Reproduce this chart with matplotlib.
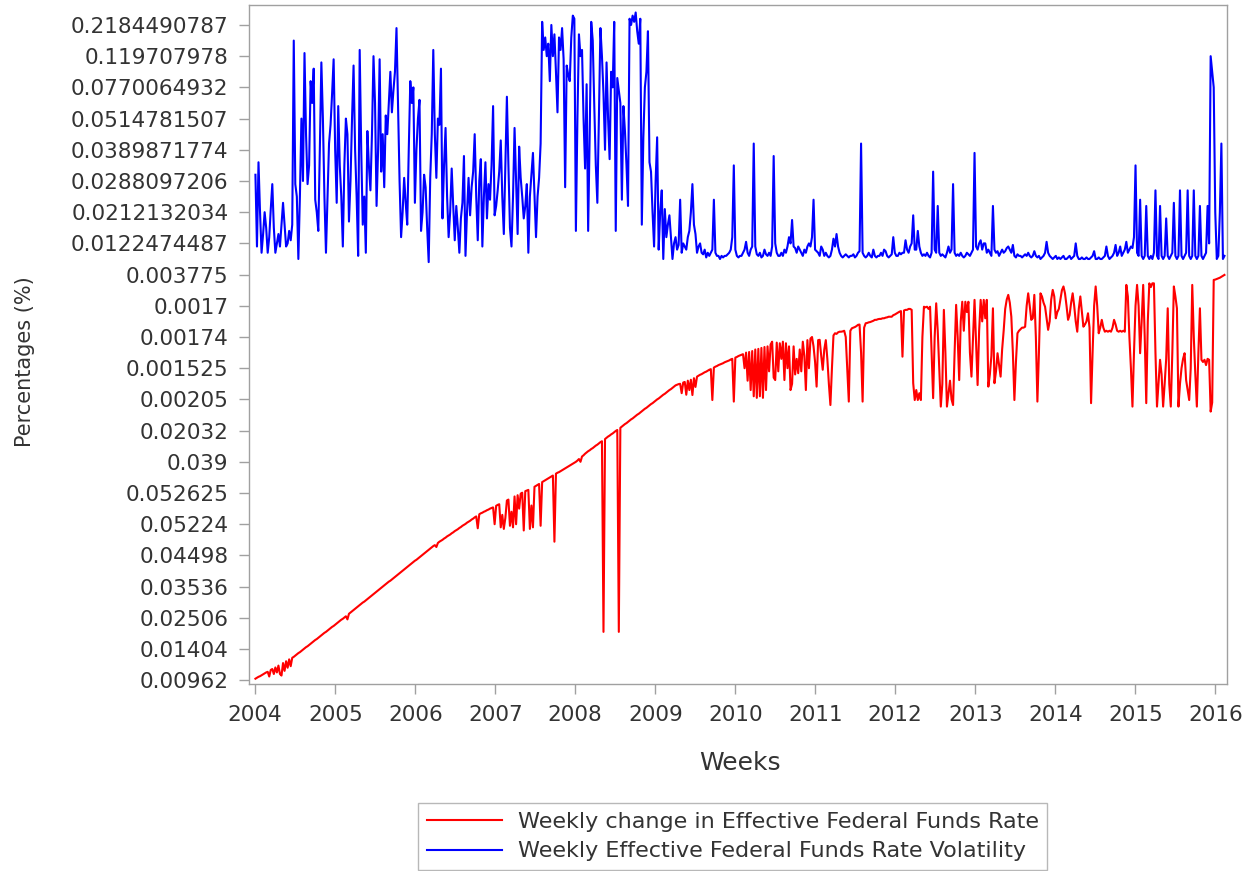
import numpy as np
import pandas as pd
import matplotlib
matplotlib.use("Agg")
import matplotlib.pyplot as plt
import matplotlib.dates as mdates
from datetime import datetime

# y-axis levels (bottom to top), as printed on the axis
level_labels = ["0.00962", "0.01404", "0.02506", "0.03536", "0.04498", "0.05224",
                "0.052625", "0.039", "0.02032", "0.00205", "0.001525", "0.00174",
                "0.0017", "0.003775", "0.0122474487", "0.0212132034", "0.0288097206",
                "0.0389871774", "0.0514781507", "0.0770064932", "0.119707978",
                "0.2184490787"]

start_week = "2004-01-02"

# weekly change in effective fed funds rate (position on the level axis)
fed_change = [
    0.05, 0.08, 0.11, 0.13, 0.16, 0.19, 0.22, 0.25, 0.27, 0.12,
    0.33, 0.36, 0.20, 0.41, 0.25, 0.47, 0.20, 0.15, 0.55, 0.30,
    0.61, 0.40, 0.67, 0.45, 0.72, 0.75, 0.79, 0.83, 0.87, 0.90,
    0.94, 0.98, 1.02, 1.06, 1.09, 1.13, 1.17, 1.21, 1.25, 1.29,
    1.32, 1.36, 1.40, 1.44, 1.48, 1.52, 1.55, 1.59, 1.63, 1.67,
    1.71, 1.74, 1.78, 1.82, 1.86, 1.90, 1.94, 1.97, 2.01, 2.05,
    1.95, 2.13, 2.17, 2.21, 2.25, 2.29, 2.33, 2.37, 2.41, 2.45,
    2.49, 2.52, 2.56, 2.60, 2.64, 2.68, 2.72, 2.76, 2.80, 2.84,
    2.88, 2.92, 2.96, 3.00, 3.04, 3.08, 3.12, 3.16, 3.19, 3.23,
    3.27, 3.31, 3.35, 3.39, 3.43, 3.47, 3.51, 3.55, 3.59, 3.63,
    3.67, 3.71, 3.75, 3.79, 3.83, 3.86, 3.90, 3.94, 3.98, 4.02,
    4.06, 4.10, 4.14, 4.18, 4.22, 4.26, 4.30, 4.33, 4.27, 4.40,
    4.44, 4.47, 4.50, 4.54, 4.57, 4.61, 4.64, 4.67, 4.71, 4.74,
    4.78, 4.81, 4.84, 4.88, 4.91, 4.95, 4.98, 5.01, 5.05, 5.08,
    5.11, 5.15, 5.18, 5.22, 5.25, 4.87, 5.32, 5.35, 5.37, 5.40,
    5.42, 5.45, 5.47, 5.50, 5.52, 5.54, 5.00, 5.59, 5.62, 5.64,
    4.90, 5.30, 4.85, 5.20, 5.76, 5.79, 4.95, 5.40, 4.90, 5.89,
    5.00, 5.93, 5.50, 5.98, 6.01, 4.80, 6.06, 6.08, 6.10, 4.85,
    5.60, 4.90, 6.20, 6.23, 6.26, 6.29, 4.95, 6.35, 6.38, 6.41,
    6.44, 6.47, 6.50, 6.53, 6.56, 4.44, 6.62, 6.65, 6.67, 6.70,
    6.73, 6.76, 6.79, 6.82, 6.85, 6.88, 6.91, 6.94, 6.97, 7.00,
    7.04, 7.09, 7.00, 7.17, 7.21, 7.26, 7.30, 7.34, 7.37, 7.41,
    7.44, 7.48, 7.52, 7.55, 7.59, 7.63, 7.66, 1.55, 7.73, 7.77,
    7.81, 7.84, 7.88, 7.91, 7.95, 7.99, 8.02, 1.55, 8.09, 8.13,
    8.17, 8.21, 8.24, 8.28, 8.32, 8.36, 8.39, 8.43, 8.47, 8.51,
    8.54, 8.58, 8.62, 8.66, 8.70, 8.73, 8.77, 8.81, 8.85, 8.88,
    8.92, 8.96, 9.00, 9.03, 9.07, 9.11, 9.15, 9.18, 9.22, 9.26,
    9.30, 9.33, 9.37, 9.41, 9.45, 9.47, 9.49, 9.50, 9.20, 9.54,
    9.56, 9.15, 9.60, 9.30, 9.63, 9.14, 9.68, 9.40, 9.73, 9.76,
    9.79, 9.81, 9.84, 9.87, 9.89, 9.92, 9.95, 9.97, 8.98, 10.02,
    10.05, 10.07, 10.10, 10.12, 10.14, 10.16, 10.19, 10.21, 10.23, 10.25,
    10.28, 10.30, 8.93, 10.34, 10.36, 10.39, 10.41, 10.43, 10.45, 10.00,
    10.50, 9.60, 10.52, 9.30, 10.55, 9.10, 10.60, 9.05, 10.62, 9.10,
    10.65, 9.05, 10.68, 9.30, 10.70, 9.90, 10.76, 10.85, 9.70, 9.62,
    10.82, 9.90, 10.80, 10.30, 10.85, 9.62, 10.80, 10.00, 10.70, 9.30,
    9.50, 10.70, 9.80, 10.30, 9.84, 10.60, 9.90, 10.85, 10.40, 9.30,
    10.90, 10.00, 10.95, 11.00, 10.70, 10.20, 9.41, 10.90, 10.91, 10.40,
    9.95, 10.60, 10.90, 10.30, 9.50, 8.82, 10.00, 11.05, 11.12, 11.10,
    11.15, 11.17, 11.17, 11.18, 11.20, 11.00, 10.00, 8.93, 11.20, 11.28,
    11.30, 11.32, 11.35, 11.39, 11.40, 10.50, 8.93, 11.30, 11.44, 11.45,
    11.47, 11.48, 11.50, 11.52, 11.55, 11.55, 11.57, 11.58, 11.58, 11.60,
    11.60, 11.62, 11.63, 11.65, 11.65, 11.65, 11.70, 11.72, 11.75, 11.78,
    11.81, 11.83, 10.37, 11.85, 11.87, 11.87, 11.90, 11.90, 11.87, 9.52,
    8.98, 9.30, 8.98, 9.20, 8.98, 11.00, 11.97, 11.95, 11.97, 11.90,
    11.97, 10.50, 9.04, 11.00, 12.08, 11.20, 10.00, 8.77, 9.50, 11.87,
    10.50, 8.77, 9.20, 9.60, 9.00, 8.82, 10.50, 12.03, 11.00, 9.62,
    11.50, 12.13, 11.20, 12.13, 11.80, 12.13, 10.50, 9.73, 11.00, 12.19,
    10.80, 9.46, 11.20, 12.19, 11.50, 12.19, 11.60, 12.19, 9.41, 9.80,
    10.40, 11.92, 9.52, 9.90, 10.48, 10.10, 9.73, 10.60, 11.20, 11.90,
    12.20, 12.35, 12.10, 11.65, 10.50, 8.98, 10.20, 11.12, 11.20, 11.25,
    11.30, 11.30, 11.33, 12.00, 12.40, 12.00, 11.55, 11.60, 12.35, 11.00,
    8.93, 10.50, 12.40, 12.30, 12.10, 11.97, 11.60, 11.23, 11.50, 12.20,
    12.51, 12.30, 11.60, 11.80, 11.90, 12.20, 12.50, 12.62, 12.40, 12.00,
    11.55, 11.70, 12.10, 12.40, 12.00, 11.50, 11.17, 11.90, 12.30, 11.80,
    11.33, 11.40, 11.50, 11.76, 11.30, 8.88, 10.50, 12.00, 12.62, 12.00,
    11.12, 11.30, 11.55, 11.30, 11.17, 11.20, 11.17, 11.20, 11.17, 11.30,
    11.55, 11.40, 11.20, 11.17, 11.20, 11.17, 11.20, 11.17, 12.67, 12.30,
    11.00, 10.00, 8.77, 10.50, 12.00, 12.67, 12.00, 10.48, 11.50, 12.67,
    11.00, 8.88, 11.50, 12.72, 12.60, 12.72, 12.72, 10.50, 8.77, 9.50,
    10.27, 9.80, 8.77, 9.50, 10.30, 11.92, 9.50, 8.77, 10.50, 12.62,
    12.30, 11.92, 8.77, 9.50, 10.00, 10.30, 10.48, 9.62, 9.30, 8.98,
    10.00, 12.67, 11.00, 9.80, 8.77, 10.50, 11.92, 10.27, 10.20, 10.27,
    10.10, 10.30, 10.27, 8.61, 8.90, 12.83, 12.84, 12.86, 12.88, 12.90,
    12.93, 12.96, 12.99,
]

# weekly effective fed funds rate volatility (position on the level axis)
fed_vol = [
    16.2, 13.9, 16.6, 15.0, 13.7, 14.3, 15.0, 14.5, 13.7, 14.2,
    15.1, 15.9, 14.5, 13.7, 14.0, 14.3, 13.9, 14.6, 15.3, 14.6,
    13.9, 14.0, 14.4, 14.1, 14.6, 20.5, 15.9, 15.5, 13.5, 15.5,
    18.0, 16.0, 20.1, 17.5, 15.9, 16.5, 19.2, 18.5, 19.6, 15.4,
    15.0, 14.4, 17.0, 19.8, 18.0, 15.5, 13.7, 15.5, 17.2, 17.8,
    18.8, 19.9, 17.0, 15.3, 18.4, 16.5, 15.5, 13.9, 16.5, 18.0,
    17.5, 14.7, 16.0, 18.0, 19.7, 17.0, 15.5, 13.6, 20.2, 17.0,
    14.6, 15.5, 13.7, 17.6, 16.5, 15.7, 17.5, 20.0, 18.5, 15.2,
    17.0, 19.9, 16.3, 17.5, 15.8, 18.1, 17.5, 18.5, 19.5, 18.2,
    18.9, 19.5, 20.9, 18.5, 16.0, 14.2, 15.0, 16.1, 15.3, 14.6,
    17.0, 19.2, 18.5, 19.0, 15.3, 17.0, 18.0, 18.6, 14.4, 15.0,
    16.2, 15.8, 14.5, 13.4, 16.1, 17.5, 20.2, 17.5, 16.1, 18.0,
    17.8, 19.6, 14.8, 16.5, 17.7, 15.5, 14.2, 15.0, 16.4, 15.2,
    14.1, 15.2, 14.5, 13.7, 14.8, 15.3, 16.8, 13.6, 15.0, 16.1,
    14.9, 15.8, 16.3, 17.5, 15.5, 14.1, 16.0, 16.7, 13.9, 15.5,
    16.6, 14.8, 15.9, 15.4, 16.5, 18.4, 14.9, 15.2, 15.7, 16.3,
    17.3, 15.5, 14.3, 16.5, 18.7, 16.5, 14.5, 13.9, 15.5, 17.7,
    16.0, 14.3, 17.1, 16.1, 15.5, 14.8, 15.2, 15.9, 13.7, 15.5,
    16.2, 16.9, 15.5, 14.2, 15.5, 16.1, 17.2, 21.1, 20.2, 20.6,
    20.0, 20.4, 19.2, 21.0, 20.0, 20.7, 19.5, 18.2, 20.6, 20.2,
    20.9, 19.9, 15.8, 19.7, 19.4, 19.2, 20.6, 21.3, 21.2, 14.4,
    18.0, 20.7, 20.0, 20.2, 18.0, 16.4, 19.1, 14.4, 17.5, 21.1,
    20.5, 18.4, 16.5, 15.3, 18.0, 20.9, 20.0, 18.8, 17.0, 19.8,
    18.0, 16.7, 19.5, 19.0, 21.1, 14.4, 19.3, 18.9, 18.5, 15.4,
    18.4, 17.6, 16.5, 15.2, 21.2, 21.0, 21.3, 21.1, 21.4, 20.8,
    20.4, 21.2, 14.6, 17.4, 19.0, 19.5, 20.8, 16.6, 16.3, 15.0,
    13.9, 16.0, 17.4, 13.8, 15.0, 15.7, 13.5, 15.1, 14.2, 14.6,
    14.9, 14.2, 13.5, 14.0, 14.2, 13.8, 13.95, 15.4, 13.7, 14.0,
    13.9, 13.8, 14.2, 14.4, 15.0, 15.9, 14.6, 14.3, 13.7, 13.9,
    14.0, 13.7, 13.65, 13.8, 13.55, 13.7, 13.6, 13.7, 13.8, 15.4,
    13.7, 13.6, 13.6, 13.5, 13.6, 13.55, 13.6, 13.6, 13.65, 13.7,
    13.8, 14.2, 16.5, 13.8, 13.6, 13.55, 13.6, 13.6, 13.7, 13.8,
    14.05, 13.7, 13.6, 13.8, 13.9, 17.2, 13.9, 13.65, 13.6, 13.7,
    13.55, 13.6, 13.8, 13.65, 13.6, 13.7, 13.6, 13.9, 16.8, 14.0,
    13.7, 13.6, 13.6, 13.7, 13.6, 13.8, 13.7, 13.9, 14.2, 14.0,
    14.75, 13.9, 13.85, 13.7, 13.9, 13.8, 13.7, 13.6, 13.8, 13.7,
    13.9, 14.0, 13.9, 14.2, 15.4, 13.8, 13.75, 13.7, 13.6, 13.9,
    13.8, 13.6, 13.7, 13.6, 13.55, 13.6, 13.8, 14.15, 13.9, 14.3,
    13.9, 13.7, 13.6, 13.55, 13.6, 13.65, 13.6, 13.55, 13.6, 13.6,
    13.65, 13.55, 13.6, 13.7, 13.75, 17.2, 13.7, 13.6, 13.55, 13.6,
    13.7, 13.6, 13.55, 13.8, 13.6, 13.55, 13.6, 13.6, 13.7, 13.6,
    13.8, 13.75, 13.6, 13.55, 13.6, 13.65, 14.2, 13.7, 13.6, 13.6,
    13.7, 13.65, 13.7, 13.7, 14.1, 13.8, 13.7, 13.9, 14.0, 14.9,
    13.8, 13.8, 14.4, 13.9, 13.7, 13.6, 13.65, 13.6, 13.7, 13.6,
    13.55, 13.7, 16.3, 13.8, 13.7, 15.2, 13.7, 13.6, 13.65, 13.6,
    13.55, 13.7, 13.9, 13.7, 13.8, 15.9, 13.7, 13.6, 13.65, 13.6,
    13.7, 13.6, 13.55, 13.6, 13.7, 13.65, 13.6, 13.7, 13.8, 16.9,
    13.9, 13.8, 14.0, 14.1, 13.8, 14.0, 14.0, 13.7, 13.8, 13.7,
    13.6, 15.2, 13.8, 13.7, 13.75, 13.6, 13.7, 13.8, 13.7, 13.75,
    13.85, 13.9, 13.8, 13.7, 13.95, 13.6, 13.55, 13.65, 13.6, 13.6,
    13.55, 13.6, 13.65, 13.6, 13.7, 13.6, 13.55, 13.6, 13.75, 13.6,
    13.55, 13.6, 13.5, 13.55, 13.6, 13.7, 14.05, 13.7, 13.6, 13.55,
    13.5, 13.55, 13.6, 13.5, 13.55, 13.5, 13.55, 13.6, 13.5, 13.5,
    13.55, 13.6, 13.5, 13.55, 13.6, 14.0, 13.6, 13.5, 13.5, 13.55,
    13.5, 13.5, 13.55, 13.5, 13.5, 13.55, 13.6, 13.75, 13.5, 13.5,
    13.55, 13.5, 13.5, 13.55, 13.6, 13.9, 13.6, 13.5, 13.55, 13.6,
    13.7, 13.95, 13.6, 13.7, 13.9, 13.6, 13.7, 13.8, 14.05, 13.7,
    13.8, 13.9, 13.85, 14.2, 16.5, 13.7, 13.6, 15.4, 13.6, 13.5,
    13.6, 15.2, 13.6, 13.5, 13.6, 13.5, 13.7, 15.7, 13.6, 13.5,
    15.2, 13.6, 13.5, 13.6, 14.8, 13.6, 13.5, 13.6, 13.7, 15.3,
    13.6, 13.5, 13.6, 15.7, 13.6, 13.5, 13.6, 13.7, 15.7, 13.6,
    13.5, 13.6, 15.7, 13.6, 13.5, 13.6, 15.2, 13.6, 13.5, 13.6,
    13.7, 15.2, 14.0, 20.0, 19.5, 19.0, 15.0, 13.5, 13.6, 15.0,
    17.2, 13.5, 13.6,
]

change_label = "Weekly change in Effective Federal Funds Rate"
vol_label = "Weekly Effective Federal Funds Rate Volatility"

text_color = "#333333"
frame_color = "#A0A0A0"

plt.rcParams["font.family"] = "DejaVu Sans"

fig = plt.figure(figsize=(12.57, 8.71), dpi=100)
ax = fig.add_axes([249.3 / 1257, 1 - 684.3 / 871, 978 / 1257, 679.3 / 871])

weeks_red = pd.date_range(start_week, periods=len(fed_change), freq="7D")
weeks_blue = pd.date_range(start_week, periods=len(fed_vol), freq="7D")

l_red, = ax.plot(weeks_red, fed_change, color="#FF0000", lw=1.5)
l_blue, = ax.plot(weeks_blue, fed_vol, color="#0000FF", lw=1.5)

ax.set_ylim(-0.13, 21.64)
ax.set_yticks(np.arange(len(level_labels)))
ax.set_yticklabels(level_labels)

ax.set_xlim(datetime(2003, 12, 5), datetime(2016, 2, 25))
ax.xaxis.set_major_locator(mdates.YearLocator(1))
ax.xaxis.set_major_formatter(mdates.DateFormatter("%Y"))

for s in ax.spines.values():
    s.set_color(frame_color)
    s.set_linewidth(1.0)
ax.tick_params(axis="both", direction="out", length=7, width=1, color=frame_color,
               labelcolor=text_color, labelsize=15.5)
ax.tick_params(axis="y", pad=8)
ax.tick_params(axis="x", pad=8)

fig.text(25 / 1257, 1 - 362 / 871, "Percentages (%)", rotation=90, ha="center",
         va="center", fontsize=15, color=text_color)
fig.text(740 / 1257, 1 - 763 / 871, "Weeks", ha="center", va="center",
         fontsize=18, color=text_color)

leg = fig.legend([l_red, l_blue], [change_label, vol_label], loc="upper left",
                 bbox_to_anchor=(418 / 1257, 1 - 803 / 871), fontsize=16,
                 frameon=True, fancybox=False, framealpha=1, edgecolor="#B8B8B8",
                 borderaxespad=0, borderpad=0.4, labelspacing=0.43,
                 handlelength=3.4, handletextpad=0.68, labelcolor=text_color)
leg.get_frame().set_linewidth(1.0)

fig.savefig("out.png", dpi=100)
